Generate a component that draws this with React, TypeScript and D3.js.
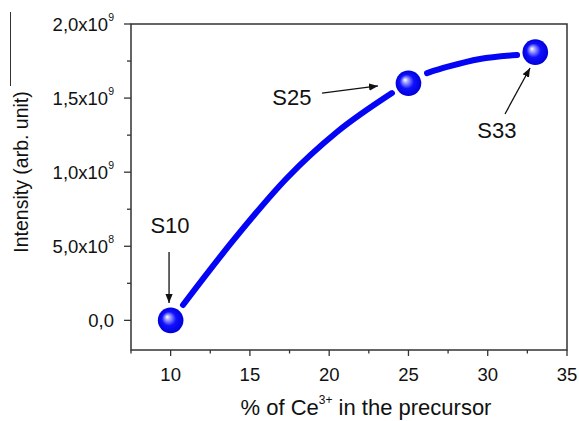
import { useEffect, useRef } from 'react'
import * as d3 from 'd3'

// samples (markers)
const sampleNames = ['S10', 'S25', 'S33']
const sampleCe = [10, 25, 33]
const sampleIntensity = [0, 1.6e9, 1.81e9]

// fitted trend (two pieces, broken at the S25 marker)
const trendLowCe = [10.78, 13.87, 17.34, 20.49, 23.96]
const trendLowIntensity = [0.104e9, 0.529e9, 0.961e9, 1.271e9, 1.534e9]
const trendHighCe = [26.17, 27.43, 29.51, 31.85]
const trendHighIntensity = [1.669e9, 1.71e9, 1.764e9, 1.791e9]

// annotations: label position and arrow (from -> to), in data units
const labelCe = [9.96, 17.65, 30.58]
const labelIntensity = [0.59e9, 1.453e9, 1.231e9]
const arrowFromCe = [9.9, 19.55, 31.09]
const arrowFromIntensity = [0.462e9, 1.534e9, 1.393e9]
const arrowToCe = [9.9, 23.08, 32.67]
const arrowToIntensity = [0.117e9, 1.582e9, 1.703e9]

const xTicks = [10, 15, 20, 25, 30, 35]
const xMinorTicks = [7.5, 12.5, 17.5, 22.5, 27.5, 32.5]
const yTicks = [0, 5e8, 1e9, 1.5e9, 2e9]
const yTickMantissa = ['0,0', '5,0x10', '1,0x10', '1,5x10', '2,0x10']
const yTickExponent = ['', '8', '9', '9', '9']
const yMinorTicks = [2.5e8, 7.5e8, 1.25e9, 1.75e9]

const width = 579
const height = 421
const font = '"Liberation Sans", Arial, sans-serif'

export default function App() {
  const svgRef = useRef<SVGSVGElement>(null)

  useEffect(() => {
    if (!svgRef.current) return
    const svg = d3.select(svgRef.current)
    svg.selectAll('*').remove()

    const x = d3.scaleLinear().domain([7.5, 35]).range([131, 567])
    const y = d3.scaleLinear().domain([-2e8, 2e9]).range([350, 24])
    const axisColor = '#333'

    const defs = svg.append('defs')
    const grad = defs.append('radialGradient')
      .attr('id', 'ball')
      .attr('cx', '50%').attr('cy', '50%').attr('r', '50%')
      .attr('fx', '36%').attr('fy', '36%')
    grad.append('stop').attr('offset', '0%').attr('stop-color', '#ffffff')
    grad.append('stop').attr('offset', '22%').attr('stop-color', '#9a9aff')
    grad.append('stop').attr('offset', '55%').attr('stop-color', '#1010ff')
    grad.append('stop').attr('offset', '100%').attr('stop-color', '#0000d8')

    defs.append('marker')
      .attr('id', 'arrowhead')
      .attr('viewBox', '0 0 10 10')
      .attr('refX', 10).attr('refY', 5)
      .attr('markerWidth', 9).attr('markerHeight', 9)
      .attr('markerUnits', 'userSpaceOnUse')
      .attr('orient', 'auto')
      .append('path')
      .attr('d', 'M0,1 L10,5 L0,9 Z')
      .attr('fill', '#111')

    // frame
    svg.append('rect')
      .attr('x', x(7.5)).attr('y', y(2e9))
      .attr('width', x(35) - x(7.5)).attr('height', y(-2e8) - y(2e9))
      .attr('fill', 'none').attr('stroke', axisColor).attr('stroke-width', 1.5)

    // x ticks
    const gx = svg.append('g').attr('stroke', axisColor).attr('stroke-width', 1.3)
    gx.selectAll('line.major').data(xTicks).enter().append('line')
      .attr('x1', d => x(d)).attr('x2', d => x(d))
      .attr('y1', y(-2e8)).attr('y2', y(-2e8) + 6)
    gx.selectAll('line.minor').data(xMinorTicks).enter().append('line')
      .attr('x1', d => x(d)).attr('x2', d => x(d))
      .attr('y1', y(-2e8)).attr('y2', y(-2e8) + 3.5)
    svg.append('g').selectAll('text').data(xTicks).enter().append('text')
      .attr('x', d => x(d)).attr('y', 381)
      .attr('text-anchor', 'middle')
      .attr('font-family', font).attr('font-size', 18.5).attr('fill', '#111')
      .text(d => d)

    // y ticks
    const gy = svg.append('g').attr('stroke', axisColor).attr('stroke-width', 1.3)
    gy.selectAll('line.major').data(yTicks).enter().append('line')
      .attr('x1', x(7.5) - 7).attr('x2', x(7.5))
      .attr('y1', d => y(d)).attr('y2', d => y(d))
    gy.selectAll('line.minor').data(yMinorTicks).enter().append('line')
      .attr('x1', x(7.5) - 4).attr('x2', x(7.5))
      .attr('y1', d => y(d)).attr('y2', d => y(d))
    const yLabels = svg.append('g').selectAll('text').data(yTicks).enter().append('text')
      .attr('x', 114).attr('y', d => y(d) + 7)
      .attr('text-anchor', 'end')
      .attr('font-family', font).attr('font-size', 18.5).attr('fill', '#111')
    yLabels.append('tspan').text((_, i) => yTickMantissa[i])
    yLabels.append('tspan')
      .attr('font-size', 10.5).attr('dy', -10)
      .text((_, i) => yTickExponent[i])

    // axis titles
    svg.append('text')
      .attr('transform', `translate(27.5,${172}) rotate(-90)`)
      .attr('text-anchor', 'middle')
      .attr('font-family', font).attr('font-size', 19.5).attr('fill', '#111')
      .text('Intensity (arb. unit)')
    svg.append('line')
      .attr('x1', 10.5).attr('x2', 10.5).attr('y1', 12).attr('y2', 86)
      .attr('stroke', '#333').attr('stroke-width', 1)

    const xTitle = svg.append('text')
      .attr('x', 366).attr('y', 415)
      .attr('text-anchor', 'middle')
      .attr('font-family', font).attr('font-size', 22).attr('fill', '#111')
    xTitle.append('tspan').text('% of Ce')
    xTitle.append('tspan').attr('font-size', 12).attr('dy', -11).text('3+')
    xTitle.append('tspan').attr('dy', 11).text(' in the precursor')

    // trend lines
    const line = d3.line<[number, number]>()
      .x(d => x(d[0])).y(d => y(d[1]))
      .curve(d3.curveMonotoneX)
    const pieces: [number, number][][] = [
      trendLowCe.map((c, i) => [c, trendLowIntensity[i]]),
      trendHighCe.map((c, i) => [c, trendHighIntensity[i]]),
    ]
    svg.append('g').selectAll('path').data(pieces).enter().append('path')
      .attr('d', d => line(d))
      .attr('fill', 'none')
      .attr('stroke', '#0505f5')
      .attr('stroke-width', 6)
      .attr('stroke-linecap', 'round')

    // sample markers
    svg.append('g').selectAll('circle').data(sampleCe).enter().append('circle')
      .attr('cx', d => x(d))
      .attr('cy', (_, i) => y(sampleIntensity[i]))
      .attr('r', 12.8)
      .attr('fill', 'url(#ball)')

    // annotations
    svg.append('g').selectAll('line').data(sampleNames).enter().append('line')
      .attr('x1', (_, i) => x(arrowFromCe[i])).attr('y1', (_, i) => y(arrowFromIntensity[i]))
      .attr('x2', (_, i) => x(arrowToCe[i])).attr('y2', (_, i) => y(arrowToIntensity[i]))
      .attr('stroke', '#111').attr('stroke-width', 1.3)
      .attr('marker-end', 'url(#arrowhead)')
    svg.append('g').selectAll('text').data(sampleNames).enter().append('text')
      .attr('x', (_, i) => x(labelCe[i])).attr('y', (_, i) => y(labelIntensity[i]))
      .attr('text-anchor', 'middle')
      .attr('font-family', font).attr('font-size', 22).attr('fill', '#111')
      .text(d => d)
  }, [])

  return (
    <svg
      ref={svgRef}
      width={width}
      height={height}
      style={{ position: 'absolute', left: 0, top: 0, background: '#fff' }}
    />
  )
}
